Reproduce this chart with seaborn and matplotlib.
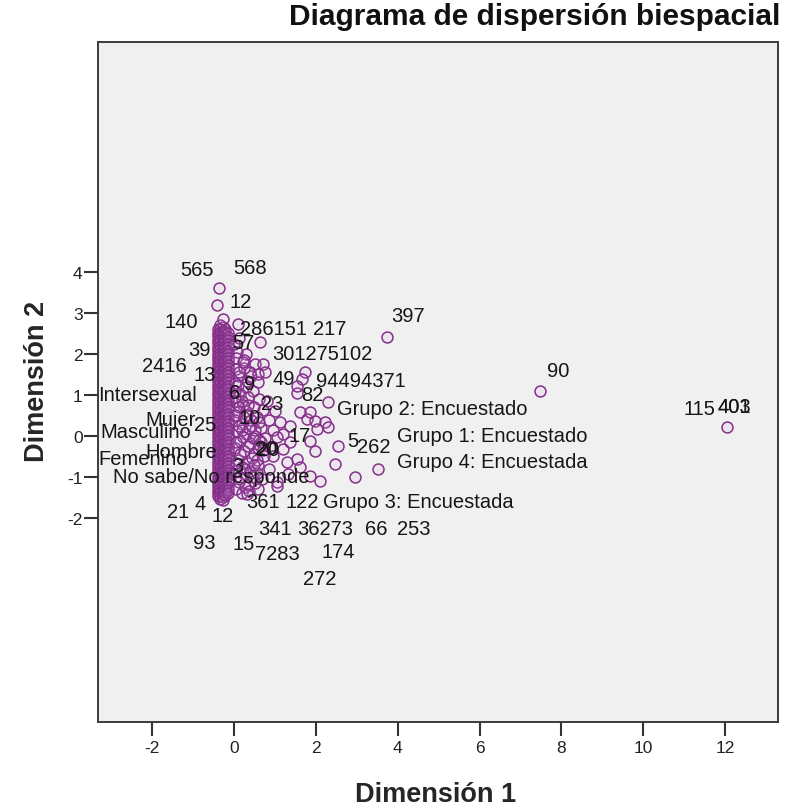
import pandas as pd
import matplotlib
matplotlib.use('Agg')
import matplotlib.pyplot as plt
import seaborn as sns

# casos: nucleo denso (cinco columnas casi superpuestas)
core_cols = [-0.40, -0.34, -0.28, -0.22, -0.16]
core_y1 = [2.60, 2.52, 2.43, 2.35, 2.26, 2.18, 2.09, 2.01, 1.92, 1.84, 1.75, 1.67, 1.58, 1.50,
           1.41, 1.33, 1.24, 1.16, 1.07, 0.99, 0.90, 0.82, 0.73, 0.65, 0.56, 0.48, 0.39, 0.31,
           0.22, 0.14, 0.05, -0.03, -0.12, -0.20, -0.29, -0.37, -0.46, -0.54, -0.63, -0.71,
           -0.80, -0.88, -0.97, -1.05, -1.14, -1.22, -1.31, -1.39, -1.46]
core_y2 = [2.70, 2.62, 2.53, 2.45, 2.36, 2.28, 2.19, 2.11, 2.02, 1.94, 1.85, 1.77, 1.68, 1.60,
           1.51, 1.43, 1.34, 1.26, 1.17, 1.09, 1.00, 0.92, 0.83, 0.75, 0.66, 0.58, 0.49, 0.41,
           0.32, 0.24, 0.15, 0.07, -0.02, -0.10, -0.19, -0.27, -0.36, -0.44, -0.53, -0.61,
           -0.70, -0.78, -0.87, -0.95, -1.04, -1.12, -1.21, -1.29, -1.38, -1.46, -1.53]
core_y3 = [2.66, 2.57, 2.49, 2.40, 2.32, 2.23, 2.15, 2.06, 1.98, 1.89, 1.81, 1.72, 1.64, 1.55,
           1.47, 1.38, 1.30, 1.21, 1.13, 1.04, 0.96, 0.87, 0.79, 0.70, 0.62, 0.53, 0.45, 0.36,
           0.28, 0.19, 0.11, 0.02, -0.06, -0.15, -0.23, -0.32, -0.40, -0.49, -0.57, -0.66,
           -0.74, -0.83, -0.91, -1.00, -1.08, -1.17, -1.25, -1.34, -1.42, -1.50, -1.56]
core_y4 = [2.62, 2.54, 2.45, 2.37, 2.28, 2.20, 2.11, 2.03, 1.94, 1.86, 1.77, 1.69, 1.60, 1.52,
           1.43, 1.35, 1.26, 1.18, 1.09, 1.01, 0.92, 0.84, 0.75, 0.67, 0.58, 0.50, 0.41, 0.33,
           0.24, 0.16, 0.07, -0.01, -0.10, -0.18, -0.27, -0.35, -0.44, -0.52, -0.61, -0.69,
           -0.78, -0.86, -0.95, -1.03, -1.12, -1.20, -1.29, -1.37, -1.44]
core_y5 = [2.50, 2.41, 2.33, 2.24, 2.16, 2.07, 1.99, 1.90, 1.82, 1.73, 1.65, 1.56, 1.48, 1.39,
           1.31, 1.22, 1.14, 1.05, 0.97, 0.88, 0.80, 0.71, 0.63, 0.54, 0.46, 0.37, 0.29, 0.20,
           0.12, 0.03, -0.05, -0.14, -0.22, -0.31, -0.39, -0.48, -0.56, -0.65, -0.73, -0.82,
           -0.90, -0.99, -1.07, -1.16, -1.24, -1.33, -1.40]

# casos en la franja a la derecha del nucleo
band_x = [0.05, 0.12, 0.28, 0.45, 0.15, 0.35, 0.60, 0.05, 0.22, 0.48, 0.70, 0.10, 0.32, 0.55,
          0.85, 0.02, 0.20, 0.42, 0.65, 0.95, 0.08, 0.30, 0.52, 0.75, 0.15, 0.38, 0.62, 0.02,
          0.25, 0.48, 0.72, 0.10, 0.35, 0.58, 0.85, 0.05, 0.25, 0.45, 0.68, 0.12, 0.35, 0.05,
          0.20, 0.40, 0.25, 0.08, 0.12, 0.00, 0.30, 0.05, 0.18, 0.18, 0.55, 0.80, 1.00, 0.90,
          0.02, 0.10, 0.20, 0.30, 0.40, 0.50, 0.60, 0.70, 0.03, 0.13, 0.24, 0.36, 0.47, 0.58,
          0.02, 0.12, 0.22, 0.33, 0.44, 0.55, 0.66, 0.05, 0.15, 0.27, 0.39, 0.50, 0.04, 0.14,
          0.26, 0.37, 0.48, 0.60, 0.03, 0.13, 0.24, 0.35]
band_y = [1.62, 1.45, 1.20, 1.10, 1.02, 0.95, 0.90, 0.85, 0.75, 0.70, 0.62, 0.58, 0.52, 0.45,
          0.40, 0.38, 0.30, 0.25, 0.20, 0.15, 0.12, 0.05, 0.00, -0.05, -0.12, -0.18, -0.25, -0.30,
          -0.38, -0.45, -0.50, -0.58, -0.65, -0.72, -0.80, -0.85, -0.92, -1.00, -1.05, -1.12,
          -1.20, -1.30, -1.40, 1.45, 1.65, 2.05, 2.40, 2.25, 2.00, 1.90, 0.15, -0.75, -0.90,
          0.85, 0.60, -0.30,
          1.30, 1.25, 0.85, 0.60, 0.40, 0.15, -0.10, -0.35, 0.95, 0.70, 0.45, 0.20, -0.05, -0.30,
          0.50, 0.25, -0.02, -0.25, -0.55, -0.60, -0.15, -0.15, -0.45, -0.80, -0.85, -1.15, -0.65,
          -1.00, -1.25, -1.35, -0.70, 0.35, 1.10, 1.55, 1.85, 0.75]

# casos dispersos
outer_x = [-0.37, -0.42, -0.27, 0.10, 0.64, 3.74, 0.22, 0.51, 0.71, 0.39, 0.59, 0.76, 0.32, 0.59,
           1.74, 1.66, 1.54, 2.30, 7.48, 12.05, 1.61, 1.78, 1.98, 2.22, 2.03, 2.30, 1.12, 1.37,
           1.20, 1.86, 1.98, 2.54, 2.47, 2.96, 3.52, 1.54, 1.61, 1.86, 2.10, 1.05, 1.32, 0.59,
           0.32, 0.95, 1.20, 1.37, 1.05, 1.54, 1.30, 1.05, 1.86]
outer_y = [3.61, 3.20, 2.85, 2.73, 2.29, 2.41, 1.80, 1.76, 1.76, 1.56, 1.51, 1.56, 1.34, 1.32,
           1.56, 1.39, 1.05, 0.83, 1.10, 0.22, 0.59, 0.41, 0.37, 0.34, 0.17, 0.22, 0.34, 0.24,
           0.05, -0.12, -0.37, -0.24, -0.68, -1.00, -0.80, -0.56, -0.76, -0.98, -1.10, -1.12, -0.93, -1.29,
           -1.41, -0.49, -0.32, -0.15, -0.02, 1.22, -0.63, -1.22, 0.59]

# etiquetas centradas
lab_c_text = ['565', '568', '12', '140', '397', '39', '57', '2416', '13', '9', '49', '6', '82',
              '23', '10', '25', '17', '5', '262', '20', '20', '3', '361', '122', '21', '4', '12',
              '93', '15', '341', '36273', '66', '253', '7283', '174', '272', '90', '115', '401', '403']
lab_c_x = [-0.90, 0.39, 0.17, -1.30, 4.25, -0.86, 0.22, -1.71, -0.71, 0.39, 1.22, 0.02, 1.91,
           0.93, 0.39, -0.71, 1.61, 2.89, 3.42, 0.78, 0.84, 0.10, 0.71, 1.66, -1.37, -0.83, -0.29,
           -0.73, 0.22, 1.00, 2.22, 3.47, 4.38, 1.05, 2.54, 2.10, 7.92, 11.39, 12.22, 12.22]
lab_c_y = [4.07, 4.12, 3.27, 2.80, 2.93, 2.12, 2.29, 1.71, 1.51, 1.29, 1.39, 1.07, 1.00,
           0.78, 0.46, 0.29, 0.00, -0.12, -0.27, -0.30, -0.34, -0.73, -1.61, -1.61, -1.85, -1.66, -1.95,
           -2.59, -2.63, -2.27, -2.27, -2.27, -2.27, -2.88, -2.83, -3.49, 1.59, 0.66, 0.71, 0.71]

# etiquetas alineadas a la izquierda
lab_l_text = ['286151', '217', '301275102', '94494371', 'Intersexual', 'Mujer', 'Masculino',
              'Hombre', 'Femenino', 'No sabe/No responde', 'Grupo 2: Encuestado',
              'Grupo 1: Encuestado', 'Grupo 4: Encuestada', 'Grupo 3: Encuestada']
lab_l_x = [0.15, 1.93, 0.93, 2.00, -3.33, -2.18, -3.28, -2.18, -3.33, -2.96, 2.51, 3.99, 3.99, 2.18]
lab_l_y = [2.61, 2.61, 2.00, 1.34, 1.02, 0.41, 0.10, -0.37, -0.56, -1.00, 0.66, 0.00, -0.63, -1.61]

sns.set_theme(style='white')
plt.rcParams['font.family'] = ['Liberation Sans', 'DejaVu Sans']
plt.rcParams['axes.unicode_minus'] = False

core_ys = [core_y1, core_y2, core_y3, core_y4, core_y5]
xs, ys = [], []
for cx, col in zip(core_cols, core_ys):
    xs += [cx] * len(col)
    ys += col
xs += band_x + outer_x
ys += band_y + outer_y
df = pd.DataFrame({'d1': xs, 'd2': ys})

fig, ax = plt.subplots(figsize=(7.98, 8.12), dpi=100)
fig.subplots_adjust(left=98/798, right=778/798, top=1-43/812, bottom=1-723/812)
ax.set_facecolor('#f0f0f0')

purple = '#84308a'
sns.scatterplot(data=df, x='d1', y='d2', ax=ax, s=62, facecolors=(0.87, 0.6, 0.88, 0.12),
                edgecolor=purple, linewidth=1.1, legend=False, zorder=2)

for t, x, y in zip(lab_c_text, lab_c_x, lab_c_y):
    ax.text(x, y, t, ha='center', va='center', fontsize=14.5, color='#161616', zorder=3)
for t, x, y in zip(lab_l_text, lab_l_x, lab_l_y):
    ax.text(x, y, t, ha='left', va='center', fontsize=14.5, color='#161616', zorder=3)

ax.set_xlim(-3.33, 13.3)
ax.set_ylim(-6.98, 9.61)
ax.set_xticks(range(-2, 13, 2))
ax.set_yticks(range(-2, 5))
ax.tick_params(axis='both', direction='out', length=10, width=1.5, color='#333333',
               labelsize=12.5, labelcolor='#222222', bottom=True, left=True)
ax.tick_params(axis='x', pad=3)
ax.tick_params(axis='y', pad=1)
for sp in ax.spines.values():
    sp.set_color('#3c3c3c')
    sp.set_linewidth(1.4)

ax.set_xlabel('Dimensión 1', fontsize=19.5, fontweight='bold')
ax.set_ylabel('Dimensión 2', fontsize=19.5, fontweight='bold')
ax.xaxis.label.set_va('center')
ax.yaxis.label.set_va('center')
ax.xaxis.set_label_coords((436-98)/680, (723-795)/680)
ax.yaxis.set_label_coords((37-98)/680, (723-381)/680)

fig.text(780/798, 1-17/812, 'Diagrama de dispersión biespacial', ha='right', va='center',
         fontsize=21.5, fontweight='bold', color='#111111')

fig.savefig('out.png', dpi=100)
